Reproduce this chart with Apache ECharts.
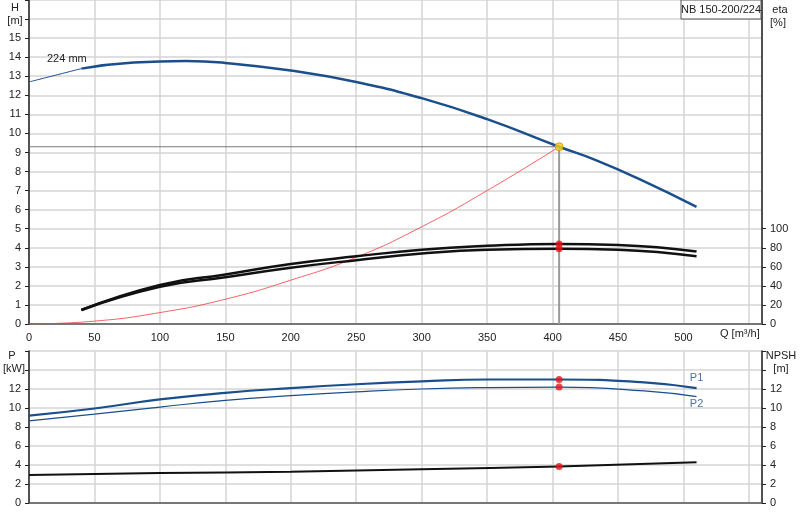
<!DOCTYPE html>
<html><head><meta charset="utf-8">
<script src="https://cdn.jsdelivr.net/npm/echarts@6/dist/echarts.min.js"></script>
<style>html,body{margin:0;background:#fff}#c{width:800px;height:520px}</style>
</head><body><div id="c"></div>
<script>
const headThin = [[0,12.7],[20,13.05],[40,13.4]];
const headThick = [[40,13.4],[80,13.72],[120,13.8],[150,13.7],[200,13.3],[250,12.7],[300,11.85],[350,10.75],[405,9.3],[433,8.6],[468,7.55],[510,6.15]];
const system = [[0,0],[50,0.15],[100,0.6],[150,1.3],[200,2.3],[250,3.5],[300,5.1],[350,7.0],[405,9.3]];
const eta1 = [[40,14.7],[100,41],[150,52],[200,63],[250,71],[300,78],[350,82],[405,84],[450,83],[510,76]];
const eta2 = [[40,14.7],[100,39],[150,49],[200,59],[250,67],[300,74],[350,78],[405,79],[450,78],[510,71]];
const p1 = [[0,9.2],[50,9.95],[100,10.9],[150,11.6],[200,12.1],[250,12.5],[300,12.8],[350,13.0],[405,13.0],[470,12.7],[510,12.1]];
const p2 = [[0,8.65],[50,9.35],[100,10.1],[150,10.8],[200,11.3],[250,11.7],[300,12.0],[350,12.15],[405,12.2],[470,11.8],[510,11.2]];
const npsh = [[0,2.95],[50,3.05],[100,3.15],[200,3.3],[300,3.55],[405,3.85],[510,4.3]];
const etaTicks = [0,20,40,60,80,100];
const duty = {q:405, h:9.3, eta1:84, eta2:79, p1:13.0, p2:12.2, npsh:3.85};
const title = 'NB 150-200/224';

const BLUE='#1a4f8b', grid='#d4d4d4', txt={color:'#222',fontSize:11,fontFamily:'Liberation Sans, Arial'};
function xAx(gi, show){return {type:'value',gridIndex:gi,min:0,max:560,interval:50,
  axisLine:{lineStyle:{color:'#555',width:1.5}},axisTick:{show:false},
  axisLabel:{show:show,...txt,formatter:v=>v>500?'':v},
  splitLine:{lineStyle:{color:grid,width:1.5}}}}
function yAx(gi,max,lim,pos,interval,show,custom){const a={type:'value',gridIndex:gi,min:0,max:max,interval:interval,position:pos,
  axisLine:{show:true,lineStyle:{color:'#222',width:1.5}},
  axisTick:{show:true,length:4,lineStyle:{color:'#222'}},
  axisLabel:{...txt,formatter:v=>v>lim?'':v},
  splitLine:{show:show,lineStyle:{color:grid,width:1.5}}};
  if(custom){a.axisTick.customValues=custom;a.axisLabel.customValues=custom;}
  return a;}
const dot=(xi,yi,pts)=>({type:'scatter',xAxisIndex:xi,yAxisIndex:yi,data:pts,symbolSize:7,itemStyle:{color:'#e8141a'},z:10});
const ln=(xi,yi,d,c,w,z)=>({type:'line',xAxisIndex:xi,yAxisIndex:yi,data:d,smooth:true,showSymbol:false,lineStyle:{color:c,width:w},z:z||3});
const T=(x,y,s,al)=>({type:'text',x:x,y:y,style:{text:s,...txt,fill:'#222',align:al||'center'},z:101});
const chart=echarts.init(document.getElementById('c'));
chart.setOption({animation:false,
 grid:[{left:29,right:38,top:0,height:324,outerBoundsMode:'none',containLabel:false},
       {left:29,right:38,top:351,height:152,outerBoundsMode:'none',containLabel:false}],
 xAxis:[xAx(0,true),xAx(1,false)],
 yAxis:[yAx(0,17,15,'left',1,true),yAx(0,340,100,'right',20,false,etaTicks),
        yAx(1,16,12,'left',2,true),yAx(1,16,12,'right',2,false)],
 graphic:[{type:'rect',shape:{x:681,y:0,width:80,height:19},style:{fill:'#fff',stroke:'#555',lineWidth:1},z:100},
   {type:'text',x:721,y:4,style:{text:title,...txt,fill:'#222',align:'center'},z:101},
   T(47,53,'224 mm','left'),
   T(15,2,'H'),T(15,15,'[m]'),T(780,4,'eta'),T(778,17,'[%]'),
   T(12,350,'P'),T(14,363,'[kW]'),T(781,350,'NPSH'),T(781,363,'[m]'),
   T(720,328,'Q [m³/h]','left')],
 series:[
  ln(0,0,headThin,BLUE,1),ln(0,0,headThick,BLUE,2.5),
  ln(0,0,system,'#f03c3c',0.8),
  {type:'line',xAxisIndex:0,yAxisIndex:0,data:[[0,duty.h],[duty.q,duty.h]],showSymbol:false,lineStyle:{color:'#777',width:1},z:2},
  {type:'line',xAxisIndex:0,yAxisIndex:0,data:[[duty.q,0],[duty.q,duty.h]],showSymbol:false,lineStyle:{color:'#999',width:2},z:2},
  ln(0,1,eta1,'#111',2.5),ln(0,1,eta2,'#111',2.5),
  {type:'scatter',xAxisIndex:0,yAxisIndex:0,data:[[duty.q,duty.h]],symbolSize:8,itemStyle:{color:'#f5d020',borderColor:'#e08a00',borderWidth:1},z:10},
  dot(0,1,[[duty.q,duty.eta1],[duty.q,duty.eta2]]),
  ln(1,2,p1,BLUE,2.2),ln(1,2,p2,BLUE,1.2),ln(1,3,npsh,'#111',2),
  dot(1,2,[[duty.q,duty.p1],[duty.q,duty.p2]]),dot(1,3,[[duty.q,duty.npsh]]),
  {type:'scatter',xAxisIndex:1,yAxisIndex:2,data:[[510,13.2,'P1'],[510,10.4,'P2']],symbolSize:0,
   label:{show:true,position:'inside',formatter:p=>p.data[2],color:BLUE,fontSize:11,fontFamily:'Liberation Sans, Arial'}}
 ]});
</script></body></html>
